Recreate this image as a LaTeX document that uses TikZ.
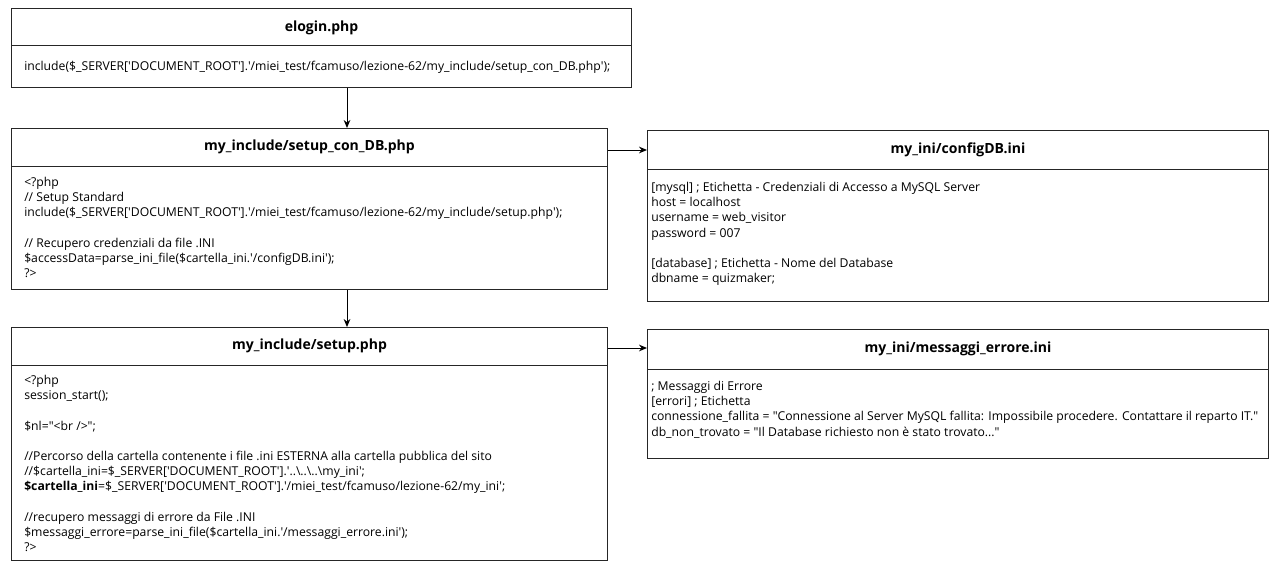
\documentclass[tikz,border=0pt]{standalone}
\usepackage{fontspec}
\setmainfont{Open Sans}
\usetikzlibrary{arrows.meta}
\newcommand\sq{\textquotesingle}
\newcommand\dq{\textquotedbl}
\newcommand\bsl{\textbackslash}
\begin{document}
\begin{tikzpicture}[x=0.75pt,y=-0.75pt,
  frame/.style={draw=black!85, line width=0.75pt, rectangle, inner sep=0pt, anchor=north west},
  rule/.style={draw=black!85, line width=0.75pt},
  title/.style={font=\fontsize{10.5}{12}\selectfont\bfseries, inner sep=0pt},
  code/.style={font=\fontsize{9.15}{11.4}\selectfont, align=left, anchor=north west, inner sep=0pt},
  link/.style={draw=black, line width=0.75pt, -{Stealth[length=6pt,width=5pt]}}]
\useasboundingbox (0,0) rectangle (1276,567);

% guide coordinates for the connectors
\coordinate (spine) at (347,0);
\coordinate (row1) at (0,150);
\coordinate (row2) at (0,348);

% elogin.php
\node[frame, minimum width=465pt, minimum height=59.25pt] (b1) at (11,8) {};
\draw[rule] (b1.west |- 0,46) -- (b1.east |- 0,46);
\node[title] (t1) at (b1.north |- 0,28) {elogin.php};
\node[code] (c1) at (24,61) {include(\$\_SERVER[\sq DOCUMENT\_ROOT\sq].\sq/miei\_test/fcamuso/lezione-62/my\_include/setup\_con\_DB.php\sq);};

% my_include/setup_con_DB.php
\node[frame, minimum width=447pt, minimum height=120.75pt] (b2) at (11,128) {};
\draw[rule] (b2.west |- 0,166) -- (b2.east |- 0,166);
\node[title] (t2) at (b2.north |- 0,147) {my\_include/setup\_con\_DB.php};
\node[code] (c2) at (24,177) {<?php\\
// Setup Standard\\
include(\$\_SERVER[\sq DOCUMENT\_ROOT\sq].\sq/miei\_test/fcamuso/lezione-62/my\_include/setup.php\sq);\\[11.4pt]
// Recupero credenziali da file .INI\\
\$accessData=parse\_ini\_file(\$cartella\_ini.\sq/configDB.ini\sq);\\
?>};

% my_ini/configDB.ini
\node[frame, minimum width=465.75pt, minimum height=128.25pt] (b3) at (647,130) {};
\draw[rule] (b3.west |- 0,169) -- (b3.east |- 0,169);
\node[title] (t3) at (b3.north |- 0,150) {my\_ini/configDB.ini};
\node[code] (c3) at (651,182) {{[mysql]} ; Etichetta - Credenziali di Accesso a MySQL Server\\
host = localhost\\
username = web\_visitor\\
password = 007\\[11.4pt]
{[database]} ; Etichetta - Nome del Database\\
dbname = quizmaker;};

% my_include/setup.php
\node[frame, minimum width=447pt, minimum height=174.75pt] (b4) at (11,327) {};
\draw[rule] (b4.west |- 0,365) -- (b4.east |- 0,365);
\node[title] (t4) at (b4.north |- 0,346) {my\_include/setup.php};
\node[code] (c4) at (24,375) {<?php\\
session\_start();\\[11.4pt]
\$nl=\dq<br />\dq;\\[11.4pt]
//Percorso della cartella contenente i file .ini ESTERNA alla cartella pubblica del sito\\
//\$cartella\_ini=\$\_SERVER[\sq DOCUMENT\_ROOT\sq].\sq..\bsl..\bsl..\bsl my\_ini\sq;\\
\textbf{\$cartella\_ini}=\$\_SERVER[\sq DOCUMENT\_ROOT\sq].\sq/miei\_test/fcamuso/lezione-62/my\_ini\sq;\\[11.4pt]
//recupero messaggi di errore da File .INI\\
\$messaggi\_errore=parse\_ini\_file(\$cartella\_ini.\sq/messaggi\_errore.ini\sq);\\
?>};

% my_ini/messaggi_errore.ini
\node[frame, minimum width=465.75pt, minimum height=96.75pt] (b5) at (647,329) {};
\draw[rule] (b5.west |- 0,369) -- (b5.east |- 0,369);
\node[title] (t5) at (b5.north |- 0,349) {my\_ini/messaggi\_errore.ini};
\node[code] (c5) at (651,381) {; Messaggi di Errore\\
{[errori]} ; Etichetta\\
connessione\_fallita = \dq Connessione al Server MySQL fallita: Impossibile procedere. Contattare il reparto IT.\dq\\
db\_non\_trovato = \dq Il Database richiesto non è stato trovato...\dq};

% connectors
\draw[link] (b1.south -| spine) -- (b2.north -| spine);
\draw[link] (b2.south -| spine) -- (b4.north -| spine);
\draw[link] (b2.east |- row1) -- (b3.west |- row1);
\draw[link] (b4.east |- row2) -- (b5.west |- row2);
\end{tikzpicture}
\end{document}
